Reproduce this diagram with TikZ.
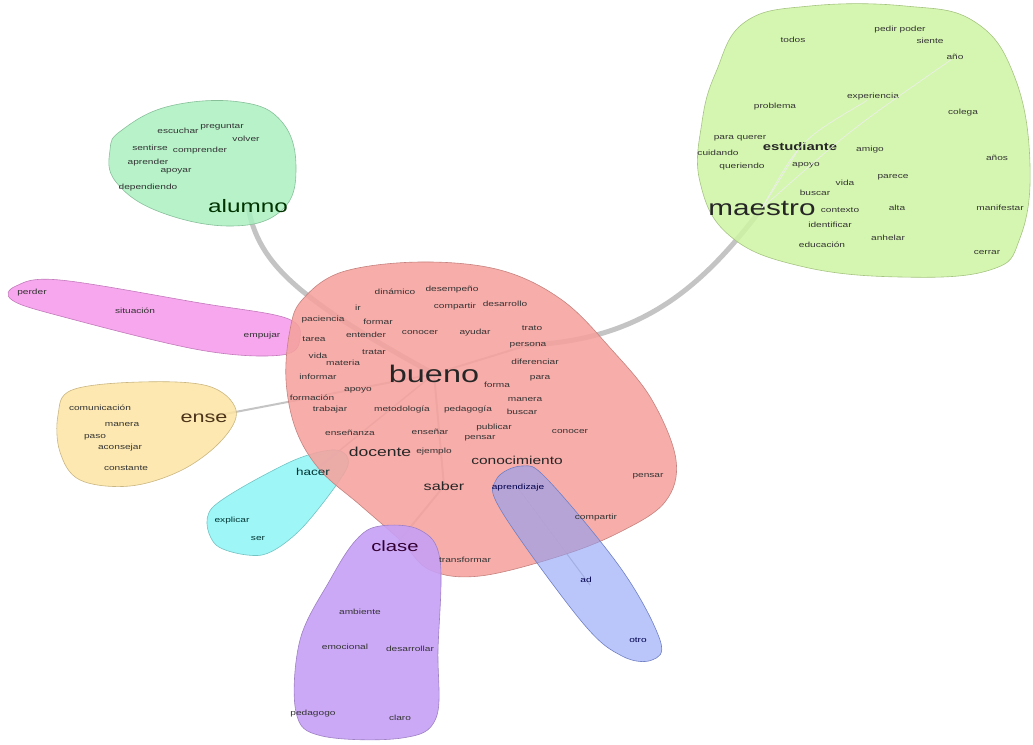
\documentclass[tikz,border=0pt]{standalone}
\usepackage{fontspec}
\setmainfont{Liberation Sans}[FakeStretch=1.35]
\usepackage{tikz}

\definecolor{hred}{RGB}{246,162,158}
\definecolor{hmint}{RGB}{170,240,192}
\definecolor{hlime}{RGB}{206,245,162}
\definecolor{hpink}{RGB}{244,152,234}
\definecolor{hyellow}{RGB}{252,228,162}
\definecolor{hcyan}{RGB}{142,244,244}
\definecolor{hpurple}{RGB}{198,160,245}
\definecolor{hblue}{RGB}{140,160,245}
\definecolor{edgegray}{RGB}{196,196,196}

\tikzset{
  w/.style={font=\fontsize{7.5}{8}\selectfont, inner sep=0pt, text=black!80},
  wb/.style={inner sep=0pt, text=black!85},
  halo/.style={draw=#1!80!black, line width=0.6pt, fill=#1},
  edge/.style={draw=edgegray, line width=#1, line cap=round},
}

\begin{document}
\begin{tikzpicture}[x=1pt, y=-1pt]
  \useasboundingbox (0,0) rectangle (1033,744);

  % main words
  \coordinate (bueno) at (434,374);
  \coordinate (alumno) at (248,206);
  \coordinate (maestro) at (762,208);
  \coordinate (ense) at (204,418);
  \coordinate (hacer) at (313,472);
  \coordinate (clase) at (395,546);
  \coordinate (saber) at (444,486);
  \coordinate (persona) at (528,345);
  \coordinate (aprendizaje) at (518,488);

  % edges
  \draw[edge=5pt] (alumno) .. controls (258,265) and (300,300) .. (bueno);
  \draw[edge=5pt] (maestro) .. controls (700,290) and (640,340) .. (persona);
  \draw[edge=2pt] (persona) -- (bueno);
  \draw[edge=2pt] (ense) -- (bueno);
  \draw[edge=1.5pt] (hacer) -- (bueno);
  \draw[edge=2pt] (clase) -- (saber);
  \draw[edge=2pt] (saber) -- (bueno);
  \draw[edge=1pt] (aprendizaje) -- (590,585);

  % halos
  \path[halo=hmint, fill opacity=0.85] plot[smooth cycle, tension=0.7] coordinates {
    (122,130) (170,106) (240,102) (282,122) (296,168) (282,210) (232,226) (160,212) (116,182) (110,150)};
  \path[halo=hlime, fill opacity=0.85] plot[smooth cycle, tension=0.7] coordinates {
    (745,22) (810,6) (905,6) (975,22) (1015,78) (1030,165) (1020,238) (990,270) (900,277) (800,266) (730,236) (700,182) (702,122) (716,72)};
  \path[halo=hpink, fill opacity=0.85] plot[smooth cycle, tension=0.6] coordinates {
    (16,286) (60,280) (200,303) (286,318) (300,338) (282,355) (200,350) (60,316) (12,300)};
  \path[halo=hyellow, fill opacity=0.85] plot[smooth cycle, tension=0.6] coordinates {
    (72,390) (140,382) (208,386) (236,410) (222,440) (182,470) (130,486) (80,480) (60,452) (58,415)};
  \path[halo=hcyan, fill opacity=0.85] plot[smooth cycle, tension=0.5] coordinates {
    (212,508) (290,462) (336,450) (347,468) (302,528) (262,555) (216,545)};
  \path[halo=hred, fill opacity=0.88] plot[smooth cycle, tension=0.6] coordinates {
    (302,300) (342,272) (420,262) (500,270) (562,300) (612,350) (652,400) (676,460) (665,502) (620,532) (560,556) (480,576) (430,570) (400,540) (360,505) (320,470) (296,430) (286,380) (290,330)};
  \path[halo=hpurple, fill opacity=0.9] plot[smooth cycle, tension=0.6] coordinates {
    (380,526) (420,530) (440,560) (438,650) (436,718) (402,738) (322,736) (296,712) (300,640) (330,580) (356,540)};
  \path[halo=hblue, fill opacity=0.6] plot[smooth cycle, tension=0.6] coordinates {
    (496,480) (522,466) (548,480) (622,570) (660,640) (652,660) (622,656) (582,622) (502,512)};

  % alumno
  \node[wb, font=\fontsize{18}{20}\selectfont, text=green!20!black] at (alumno) {alumno};
  \begin{scope}[every node/.append style={text=green!20!black}]
  \node[w] (escuchar) at (178,131) {escuchar};
  \node[w] (preguntar) at (222,127) {preguntar};
  \node[w] (volver) at (246,139) {volver};
  \node[w] (sentirse) at (150,148) {sentirse};
  \node[w] (comprender) at (200,151) {comprender};
  \node[w] (aprender) at (148,163) {aprender};
  \node[w] (apoyar) at (176,171) {apoyar};
  \node[w] (depender) at (148,188) {dependiendo};
  \end{scope}

  % maestro
  \node[wb, font=\fontsize{22}{24}\selectfont] at (maestro) {maestro};
  \begin{scope}[every node/.append style={text=green!15!black}]
  \node[w] (todos) at (793,40) {todos};
  \node[w] (poder) at (900,30) {pedir poder};
  \node[w] (siente) at (930,41) {siente};
  \node[w] (ano) at (955,57) {año};
  \node[w] (experiencia) at (873,97) {experiencia};
  \node[w] (problema) at (775,107) {problema};
  \node[w] (colega) at (963,113) {colega};
  \node[w] (querer) at (740,138) {para querer};
  \node[w] (cuidado) at (718,153) {cuidando};
  \node[wb, font=\fontsize{11}{12}\selectfont\bfseries] (estudiante) at (800,147) {estudiante};
  \node[w] (amigo) at (870,150) {amigo};
  \node[w] (queriendo) at (742,167) {queriendo};
  \node[w] (apoyo) at (806,165) {apoyo};
  \node[w] (anos) at (997,158) {años};
  \node[w] (pensar) at (893,177) {parece};
  \node[w] (vida) at (845,183) {vida};
  \node[w] (buscar) at (815,193) {buscar};
  \node[w] (contexto) at (840,210) {contexto};
  \node[w] (alta) at (897,208) {alta};
  \node[w] (manifestar) at (1000,208) {manifestar};
  \node[w] (identificar) at (830,225) {identificar};
  \node[w] (anhelar) at (888,238) {anhelar};
  \node[w] (educacion) at (822,245) {educación};
  \node[w] (cerrar) at (987,253) {cerrar};
  \end{scope}
  \draw[edge=0.6pt, draw=white!70!edgegray] (maestro) -- (estudiante);
  \draw[edge=0.6pt, draw=white!70!edgegray] (maestro) .. controls (800,140) .. (experiencia);
  \draw[edge=0.6pt, draw=white!70!edgegray] (maestro) .. controls (850,130) .. (ano);

  % pink
  \begin{scope}[every node/.append style={text=magenta!35!black}]
  \node[w] (perder) at (32,293) {perder};
  \node[w] (situacion) at (135,311) {situación};
  \node[w] (empujar) at (262,336) {empujar};
  \end{scope}

  % yellow
  \node[wb, font=\fontsize{16}{18}\selectfont, text=brown!40!black] at (ense) {ense};
  \begin{scope}[every node/.append style={text=brown!40!black}]
  \node[w] (comunicacion) at (100,408) {comunicación};
  \node[w] (manera) at (122,425) {manera};
  \node[w] (paso) at (95,437) {paso};
  \node[w] (aconsejar) at (120,448) {aconsejar};
  \node[w] (constante) at (126,468) {constante};
  \end{scope}

  % cyan
  \node[wb, font=\fontsize{10}{11}\selectfont, text=teal!40!black] at (hacer) {hacer};
  \node[w, text=teal!40!black] (explicar) at (232,521) {explicar};
  \node[w, text=teal!40!black] (ser) at (258,539) {ser};

  % red
  \node[wb, font=\fontsize{24}{26}\selectfont] at (bueno) {bueno};
  \begin{scope}[every node/.append style={text=red!25!black}]
  \node[w] at (395,292) {dinámico};
  \node[w] at (452,290) {desempeño};
  \node[w] at (358,308) {ir};
  \node[w] at (455,307) {compartir};
  \node[w] at (505,304) {desarrollo};
  \node[w] at (323,320) {paciencia};
  \node[w] at (378,322) {formar};
  \node[w] at (314,339) {tarea};
  \node[w] at (366,335) {entender};
  \node[w] at (420,333) {conocer};
  \node[w] at (475,333) {ayudar};
  \node[w] at (532,328) {trato};
  \node[w] at (persona) {persona};
  \node[w] at (318,356) {vida};
  \node[w] at (374,352) {tratar};
  \node[w] at (343,363) {materia};
  \node[w] at (535,362) {diferenciar};
  \node[w] at (540,378) {para};
  \node[w] at (318,377) {informar};
  \node[w] at (497,385) {forma};
  \node[w] at (358,390) {apoyo};
  \node[w] at (312,398) {formación};
  \node[w] at (330,410) {trabajar};
  \node[w] at (402,410) {metodología};
  \node[w] at (525,400) {manera};
  \node[w] at (522,412) {buscar};
  \node[w] at (468,410) {pedagogía};
  \node[w] at (350,433) {enseñanza};
  \node[w] at (430,432) {enseñar};
  \node[w] at (494,428) {publicar};
  \node[w] at (480,438) {pensar};
  \node[w] at (570,432) {conocer};
  \node[wb, font=\fontsize{13}{14}\selectfont] at (380,452) {docente};
  \node[w] at (434,452) {ejemplo};
  \node[wb, font=\fontsize{11.5}{13}\selectfont] at (517,460) {conocimiento};
  \node[wb, font=\fontsize{12}{13}\selectfont] at (saber) {saber};
  \node[w] at (648,476) {pensar};
  \node[w] at (596,518) {compartir};
  \end{scope}
  \node[w, text=blue!30!black] at (aprendizaje) {aprendizaje};

  % purple
  \node[wb, font=\fontsize{15}{16}\selectfont, text=violet!40!black] at (clase) {clase};
  \begin{scope}[every node/.append style={text=violet!40!black}]
  \node[w] (transformar) at (465,560) {transformar};
  \node[w] (ambiente) at (360,612) {ambiente};
  \node[w] (emocional) at (345,647) {emocional};
  \node[w] (desarrollar) at (410,649) {desarrollar};
  \node[w] (pedagogo) at (313,714) {pedagogo};
  \node[w] (claro) at (400,718) {claro};
  \end{scope}

  % blue
  \node[w, text=blue!30!black] (ad) at (586,580) {ad};
  \node[w, text=blue!30!black] (otro) at (638,640) {otro};
\end{tikzpicture}
\end{document}
